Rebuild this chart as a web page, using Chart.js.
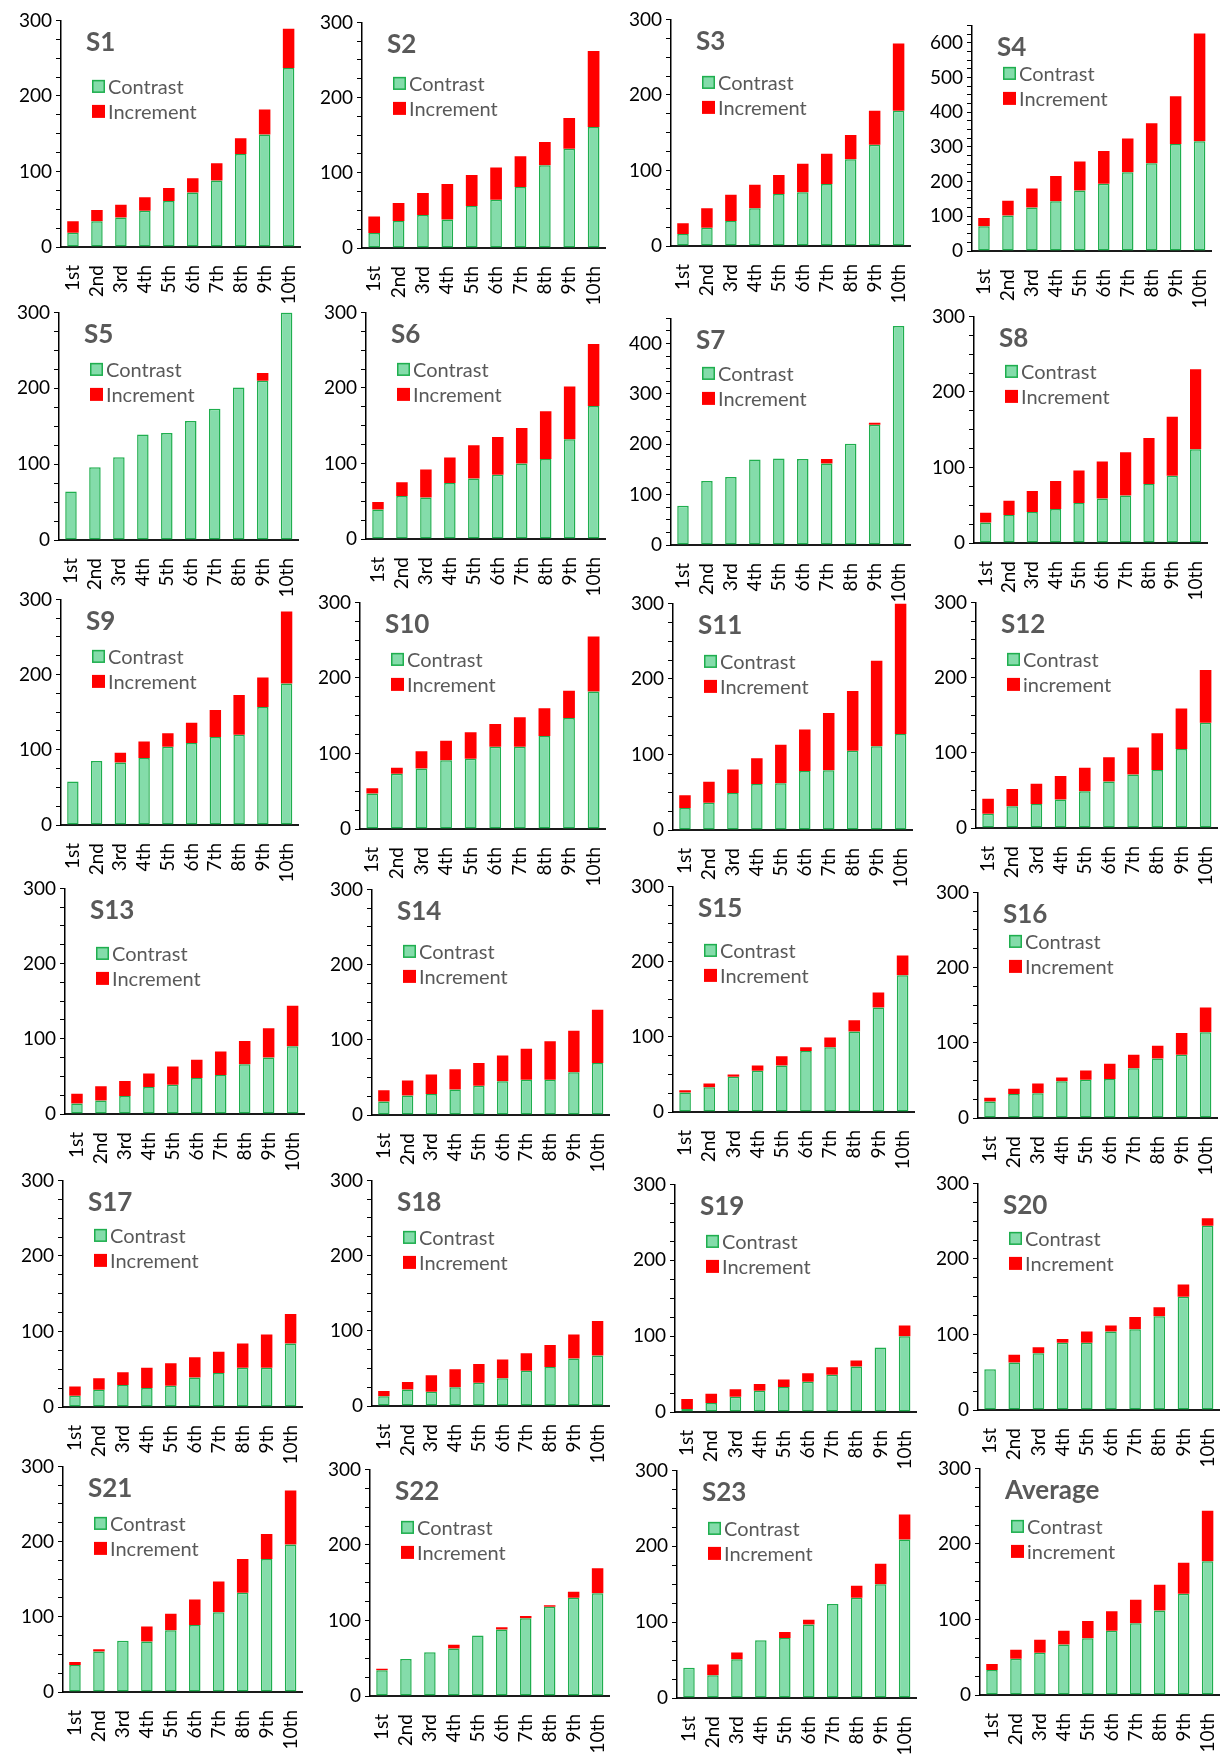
<!DOCTYPE html>
<html>
<head>
<meta charset="utf-8">
<script src="https://cdn.jsdelivr.net/npm/chart.js@4.4.0/dist/chart.umd.min.js"></script>
<style>
  html, body { margin: 0; padding: 0; background: #fff; }
  #board { position: relative; width: 1231px; height: 1754px; overflow: hidden; }
  #board canvas { position: absolute; }
</style>
</head>
<body>
<div id="board"></div>
<script>
// ---- data ----
const categories = ["1st", "2nd", "3rd", "4th", "5th", "6th", "7th", "8th", "9th", "10th"];
const panelNames = ["S1", "S2", "S3", "S4", "S5", "S6", "S7", "S8", "S9", "S10", "S11", "S12",
  "S13", "S14", "S15", "S16", "S17", "S18", "S19", "S20", "S21", "S22", "S23", "Average"];
const yMaxes = [300, 300, 300, 650, 300, 300, 450, 300, 300, 300, 300, 300,
  300, 300, 300, 300, 300, 300, 300, 300, 300, 300, 300, 300];
const incrementLabels = ["Increment", "Increment", "Increment", "Increment", "Increment", "Increment",
  "Increment", "Increment", "Increment", "Increment", "Increment", "increment",
  "Increment", "Increment", "Increment", "Increment", "Increment", "Increment",
  "Increment", "Increment", "Increment", "Increment", "Increment", "increment"];

const contrastS1 = [19, 34, 39, 48, 61, 72, 88, 123, 149, 237];
const incrementS1 = [15, 15, 17, 18, 17, 19, 23, 21, 33, 52];
const contrastS2 = [20, 36, 44, 38, 56, 64, 81, 110, 132, 161];
const incrementS2 = [22, 24, 29, 47, 41, 43, 41, 31, 41, 101];
const contrastS3 = [16, 24, 33, 50, 69, 71, 82, 115, 134, 179];
const incrementS3 = [14, 26, 35, 31, 25, 38, 40, 32, 45, 89];
const contrastS4 = [71, 102, 125, 143, 174, 194, 227, 253, 308, 316];
const incrementS4 = [24, 43, 55, 73, 84, 94, 97, 115, 138, 311];
const contrastS5 = [64, 96, 109, 139, 141, 157, 173, 201, 210, 300];
const incrementS5 = [-2, -2, -2, -2, -2, -2, -2, -2, 10, -2];
const contrastS6 = [39, 57, 55, 74, 80, 85, 100, 106, 132, 176];
const incrementS6 = [10, 18, 37, 34, 44, 50, 47, 63, 70, 82];
const contrastS7 = [78, 127, 135, 170, 172, 171, 162, 201, 239, 435];
const incrementS7 = [-3, -3, -3, -3, -3, -3, 9, -3, 4, -3];
const contrastS8 = [27, 37, 41, 45, 53, 59, 63, 78, 89, 124];
const incrementS8 = [13, 19, 28, 37, 43, 49, 57, 61, 78, 106];
const contrastS9 = [58, 85, 83, 89, 104, 109, 117, 120, 157, 188];
const incrementS9 = [-3, -3, 13, 22, 18, 27, 36, 53, 39, 96];
const contrastS10 = [47, 73, 80, 91, 93, 109, 109, 123, 147, 182];
const incrementS10 = [7, 8, 23, 26, 35, 30, 39, 37, 36, 73];
const contrastS11 = [29, 36, 49, 61, 62, 78, 79, 105, 111, 127];
const incrementS11 = [17, 28, 31, 34, 51, 55, 76, 79, 113, 173];
const contrastS12 = [19, 29, 32, 38, 49, 62, 71, 77, 105, 140];
const incrementS12 = [20, 23, 27, 31, 31, 32, 36, 49, 54, 70];
const contrastS13 = [14, 18, 24, 36, 39, 48, 52, 66, 75, 90];
const incrementS13 = [13, 19, 20, 18, 24, 24, 31, 31, 39, 54];
const contrastS14 = [18, 26, 28, 34, 39, 45, 47, 47, 57, 69];
const incrementS14 = [15, 20, 26, 27, 30, 34, 41, 51, 55, 71];
const contrastS15 = [26, 33, 47, 55, 62, 81, 86, 107, 139, 182];
const incrementS15 = [3, 5, 3, 7, 12, 5, 13, 15, 20, 26];
const contrastS16 = [22, 32, 33, 49, 51, 52, 66, 79, 84, 114];
const incrementS16 = [5, 7, 13, 5, 12, 20, 18, 17, 29, 33];
const contrastS17 = [15, 23, 29, 25, 28, 39, 45, 52, 52, 84];
const incrementS17 = [12, 15, 17, 27, 30, 27, 28, 32, 44, 39];
const contrastS18 = [13, 22, 19, 25, 31, 37, 47, 52, 63, 67];
const incrementS18 = [7, 10, 22, 24, 25, 25, 23, 29, 32, 46];
const contrastS19 = [4, 12, 20, 28, 33, 40, 49, 60, 85, 100];
const incrementS19 = [13, 12, 10, 9, 10, 11, 10, 8, -2, 14];
const contrastS20 = [54, 63, 75, 89, 89, 104, 107, 124, 150, 244];
const incrementS20 = [-1, 10, 8, 5, 15, 8, 16, 12, 16, 10];
const contrastS21 = [36, 54, 68, 67, 82, 89, 106, 132, 177, 196];
const incrementS21 = [4, 3, -1, 20, 22, 34, 41, 45, 33, 72];
const contrastS22 = [34, 49, 58, 63, 80, 88, 103, 118, 130, 136];
const incrementS22 = [2, -1, -1, 5, -2, 3, 3, 2, 8, 33];
const contrastS23 = [40, 30, 51, 76, 79, 97, 124, 132, 150, 209];
const incrementS23 = [-1, 14, 9, -1, 8, 6, -1, 16, 27, 33];
const contrastAvg = [33, 48, 56, 67, 75, 85, 95, 112, 134, 177];
const incrementAvg = [8, 12, 17, 18, 23, 26, 31, 34, 41, 67];

const contrastSeries = [contrastS1, contrastS2, contrastS3, contrastS4, contrastS5, contrastS6,
  contrastS7, contrastS8, contrastS9, contrastS10, contrastS11, contrastS12, contrastS13,
  contrastS14, contrastS15, contrastS16, contrastS17, contrastS18, contrastS19, contrastS20,
  contrastS21, contrastS22, contrastS23, contrastAvg];
const incrementSeries = [incrementS1, incrementS2, incrementS3, incrementS4, incrementS5,
  incrementS6, incrementS7, incrementS8, incrementS9, incrementS10, incrementS11, incrementS12,
  incrementS13, incrementS14, incrementS15, incrementS16, incrementS17, incrementS18,
  incrementS19, incrementS20, incrementS21, incrementS22, incrementS23, incrementAvg];

// ---- layout: [y-axis x, plot top, zero line, plot right, legend offset] ----
const panelBoxes = [
  [61, 17, 247, 310, 66], [362, 19, 248, 615, 61], [671, 16, 246, 920, 63], [972, 22, 251, 1221, 48],
  [59, 309, 540, 308, 57], [366, 309, 539, 615, 57], [671, 315, 545, 920, 55], [974, 313, 543, 1217, 55],
  [61, 596, 825, 308, 57], [360, 599, 829, 615, 57], [673, 600, 830, 922, 58], [976, 599, 828, 1227, 57],
  [65, 885, 1114, 314, 65], [372, 886, 1115, 619, 62], [673, 883, 1112, 924, 64], [978, 889, 1118, 1227, 49],
  [63, 1177, 1407, 312, 55], [372, 1177, 1406, 619, 57], [675, 1181, 1412, 926, 57], [978, 1180, 1410, 1229, 55],
  [63, 1463, 1692, 312, 57], [370, 1466, 1696, 619, 58], [677, 1467, 1698, 926, 58], [980, 1465, 1695, 1229, 58]
];

const Y_AXIS_W = 50;
const X_AXIS_H = 56;
const PAD_TOP = 12;
const PAD_RIGHT = 12;

const GREEN_FILL = "#84dcaa";
const GREEN_EDGE = "#1fae4e";
const RED = "#ff0000";
const LABEL_GREY = "#595959";
const FONT = "Lato, 'Noto Sans', sans-serif";

// title + in-plot legend
const panelDecor = {
  id: "panelDecor",
  afterDraw(chart, args, opts) {
    const { ctx, chartArea } = chart;
    const x0 = chartArea.left;
    const y0 = chartArea.top;
    ctx.save();
    ctx.fillStyle = LABEL_GREY;
    ctx.textBaseline = "middle";
    ctx.font = "bold 26px " + FONT;
    ctx.fillText(opts.title, x0 + 25, y0 + 22);

    const bx = x0 + 31;
    const rows = [
      { y: y0 + opts.legendDy, text: "Contrast", fill: GREEN_FILL, edge: GREEN_EDGE },
      { y: y0 + opts.legendDy + 25, text: opts.incLabel, fill: RED, edge: null }
    ];
    ctx.font = "20px " + FONT;
    rows.forEach(r => {
      ctx.fillStyle = r.fill;
      ctx.fillRect(bx, r.y - 6.5, 13, 13);
      if (r.edge) {
        ctx.strokeStyle = r.edge;
        ctx.lineWidth = 1.5;
        ctx.strokeRect(bx + 0.75, r.y - 5.75, 11.5, 11.5);
      }
      ctx.fillStyle = LABEL_GREY;
      ctx.fillText(r.text, bx + 16, r.y + 1);
    });
    ctx.restore();
  }
};

const board = document.getElementById("board");

panelNames.forEach((name, i) => {
  const [axisX, topY, zeroY, rightX, legendDy] = panelBoxes[i];
  const canvas = document.createElement("canvas");
  const w = Math.round(rightX - axisX + Y_AXIS_W + PAD_RIGHT);
  const h = Math.round(zeroY - topY + PAD_TOP + X_AXIS_H);
  canvas.width = w;
  canvas.height = h;
  canvas.style.left = (axisX - Y_AXIS_W) + "px";
  canvas.style.top = (topY - PAD_TOP) + "px";
  canvas.style.width = w + "px";
  canvas.style.height = h + "px";
  board.appendChild(canvas);

  new Chart(canvas, {
    type: "bar",
    data: {
      labels: categories,
      datasets: [
        {
          label: "Contrast",
          data: contrastSeries[i],
          backgroundColor: GREEN_FILL,
          borderColor: GREEN_EDGE,
          borderWidth: 1.5,
          borderSkipped: false
        },
        {
          label: incrementLabels[i],
          data: incrementSeries[i],
          backgroundColor: RED,
          borderWidth: 0
        }
      ]
    },
    options: {
      responsive: false,
      animation: false,
      devicePixelRatio: 1,
      layout: { padding: { top: PAD_TOP, right: PAD_RIGHT, left: 0, bottom: 0 } },
      datasets: { bar: { barPercentage: 0.48, categoryPercentage: 1 } },
      scales: {
        x: {
          stacked: true,
          z: 1,
          grid: { display: false },
          border: { display: true, color: "#1a1a1a", width: 2 },
          ticks: {
            autoSkip: false,
            maxRotation: 90,
            minRotation: 90,
            padding: 10,
            color: "#000",
            font: { family: FONT, size: 19 }
          },
          afterFit(scale) { scale.height = X_AXIS_H; }
        },
        y: {
          stacked: true,
          min: 0,
          max: yMaxes[i],
          grid: {
            display: true,
            drawOnChartArea: false,
            drawTicks: true,
            tickLength: 5,
            color: "#000",
            lineWidth: 1
          },
          border: { display: true, color: "#000", width: 1.5 },
          ticks: {
            stepSize: 25,
            maxTicksLimit: 40,
            autoSkip: false,
            padding: 4,
            color: "#000",
            font: { family: FONT, size: 19 },
            callback: v => (v % 100 === 0 ? v : "")
          },
          afterFit(scale) { scale.width = Y_AXIS_W; }
        }
      },
      plugins: {
        legend: { display: false },
        tooltip: { enabled: false },
        panelDecor: { title: name, legendDy: legendDy, incLabel: incrementLabels[i] }
      }
    },
    plugins: [panelDecor]
  });
});
</script>
</body>
</html>
